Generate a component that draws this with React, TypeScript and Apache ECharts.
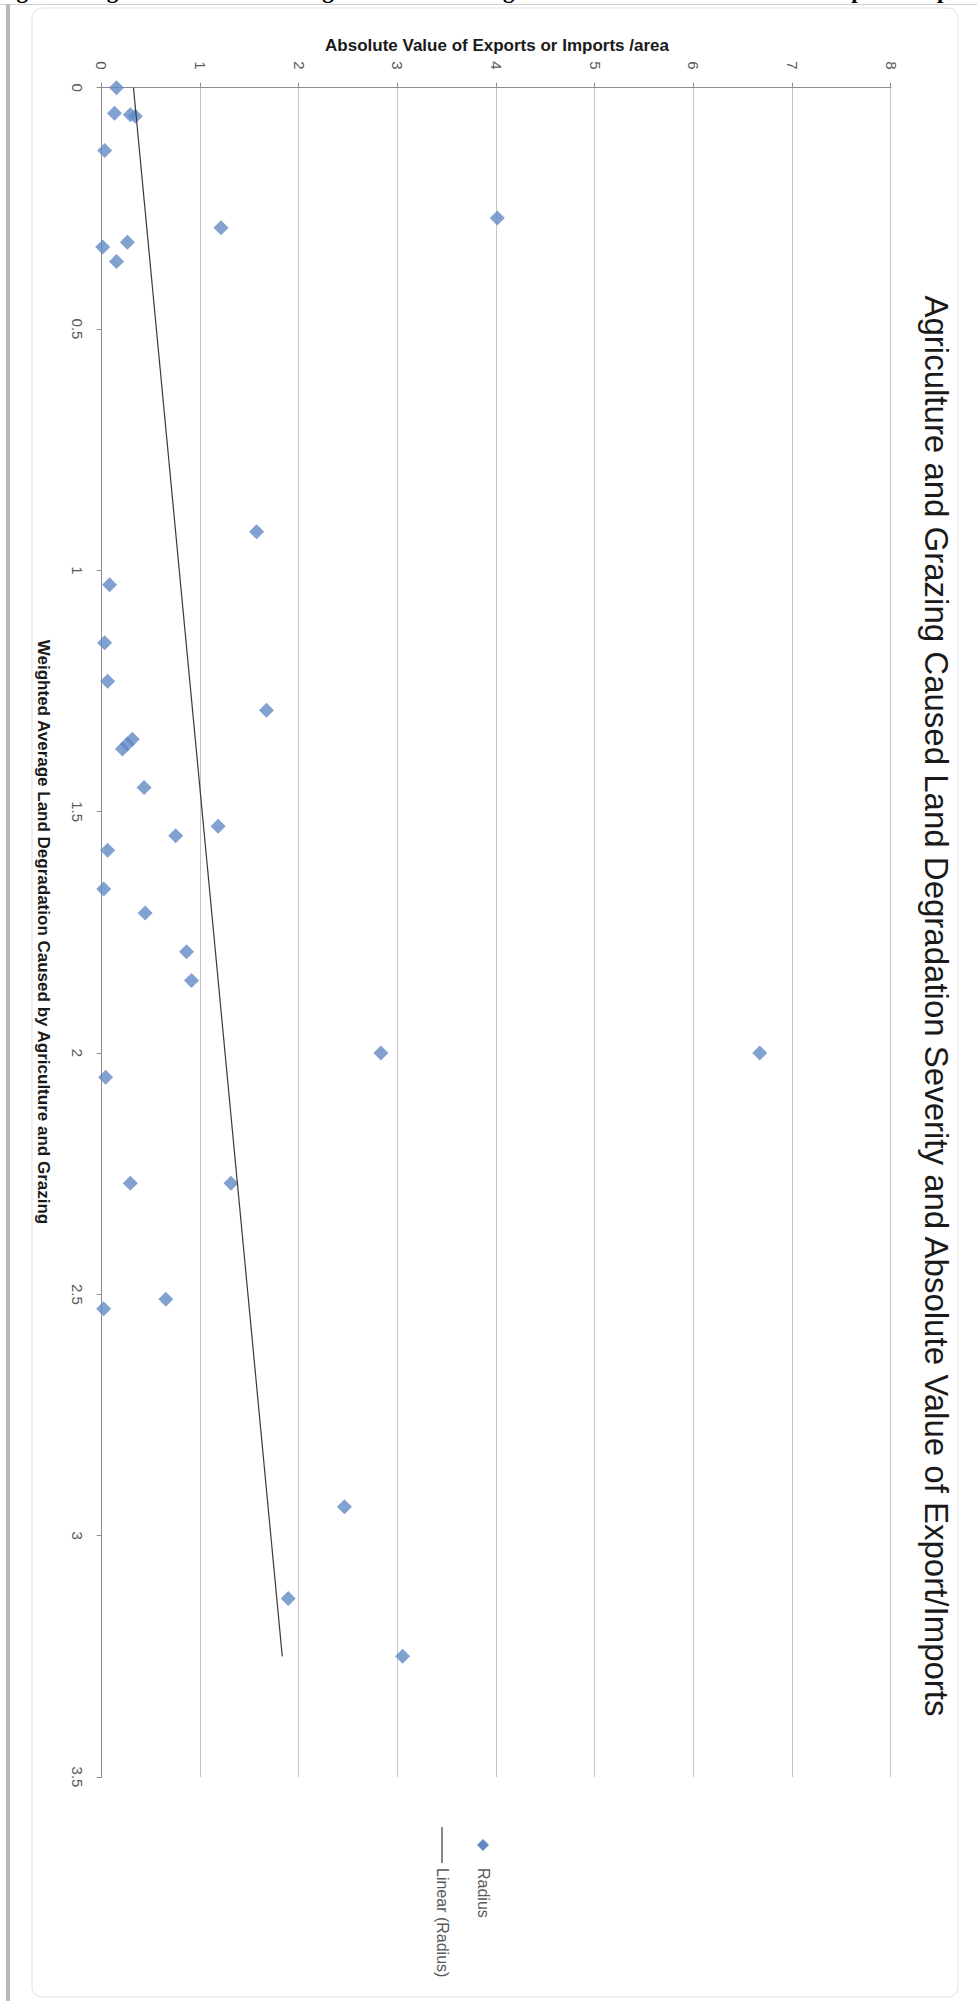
import React, { useEffect, useRef } from "react";
import * as echarts from "echarts";

// X: weighted average land degradation (agriculture & grazing)
const degradation = [
  0.0, 0.053, 0.056, 0.059, 0.13, 0.29, 0.27, 0.32, 0.33, 0.36,
  0.92, 1.03, 1.15, 1.23, 1.29, 1.35, 1.37, 1.36, 1.45, 1.53,
  1.55, 1.58, 1.66, 1.71, 1.79, 1.85, 2.0, 2.0, 2.05, 2.27,
  2.27, 2.51, 2.53, 2.94, 3.13, 3.25,
];
// Y: absolute value of exports or imports / area
const tradeValue = [
  0.15, 0.13, 0.29, 0.34, 0.03, 1.21, 4.01, 0.26, 0.01, 0.15,
  1.57, 0.08, 0.03, 0.06, 1.67, 0.31, 0.21, 0.26, 0.43, 1.18,
  0.75, 0.06, 0.02, 0.44, 0.86, 0.91, 2.83, 6.67, 0.04, 1.31,
  0.29, 0.65, 0.02, 2.46, 1.89, 3.05,
];

const chartTitle =
  "Agriculture and Grazing Caused Land Degradation Severity and Absolute Value of Export/Imports";
const xAxisTitle = "Weighted Average Land Degradation Caused by Agriculture and Grazing";
const yAxisTitle = "Absolute Value of Exports or Imports /area";
const seriesName = "Radius";
const trendName = "Linear (Radius)";
const caption =
  "Figure 3: Agriculture and Grazing Caused Land Degradation and Absolute Value of Exports/Imports";

const xMin = 0;
const xMax = 3.5;
const xStep = 0.5;
const yMin = 0;
const yMax = 8;
const yStep = 1;

const FONT = '"Liberation Sans", Arial, sans-serif';
const MARKER = "#6289c5";
const TREND = "#3a3a3a";

export default function App() {
  const ref = useRef<HTMLDivElement>(null);

  useEffect(() => {
    document.documentElement.style.overflow = "hidden";
    document.body.style.overflow = "hidden";
    const el = ref.current!;
    const chart = echarts.init(el, null, { renderer: "svg", width: 2001, height: 977 });

    const points = degradation.map((x, i) => [x, tradeValue[i]]);
    // least-squares linear trendline (as Excel computes it)
    const n = points.length;
    const mx = degradation.reduce((a, b) => a + b, 0) / n;
    const my = tradeValue.reduce((a, b) => a + b, 0) / n;
    let sxy = 0;
    let sxx = 0;
    for (let i = 0; i < n; i++) {
      sxy += (degradation[i] - mx) * (tradeValue[i] - my);
      sxx += (degradation[i] - mx) * (degradation[i] - mx);
    }
    const slope = sxy / sxx;
    const intercept = my - slope * mx;
    const lo = Math.min(...degradation);
    const hi = Math.max(...degradation);
    const trend = [
      [lo, intercept + slope * lo],
      [hi, intercept + slope * hi],
    ];

    const axisColor = "#8c8c8c";
    const centered = { align: "center", verticalAlign: "middle", textAlign: "center", textVerticalAlign: "middle" };
    const leftMid = { align: "left", verticalAlign: "middle", textAlign: "left", textVerticalAlign: "middle" };

    // legend (Excel style, drawn at the right of the plot before the page rotation)
    const legX = 1827;
    const legY1 = 494;
    const legY2 = 535;

    chart.setOption({
      animation: false,
      backgroundColor: "transparent",
      grid: { left: 87.7, right: 224, top: 86, bottom: 101.7, containLabel: false },
      xAxis: {
        type: "value",
        min: xMin,
        max: xMax,
        interval: xStep,
        axisLine: { show: true, onZero: false, lineStyle: { color: axisColor, width: 1 } },
        axisTick: { show: true, length: 5, lineStyle: { color: axisColor } },
        axisLabel: { margin: 17, fontSize: 15, color: "#595959", fontFamily: FONT },
        splitLine: { show: false },
      },
      yAxis: {
        type: "value",
        min: yMin,
        max: yMax,
        interval: yStep,
        axisLine: { show: true, onZero: false, lineStyle: { color: axisColor, width: 1 } },
        axisTick: { show: true, length: 5, lineStyle: { color: axisColor } },
        axisLabel: { margin: 18, fontSize: 15, color: "#595959", fontFamily: FONT },
        splitLine: { show: true, lineStyle: { color: "#c6c6c6", width: 1 } },
      },
      series: [
        {
          name: seriesName,
          type: "scatter",
          data: points,
          symbol: "diamond",
          symbolSize: 15,
          itemStyle: { color: MARKER },
        },
        {
          name: trendName,
          type: "line",
          data: trend,
          symbol: "none",
          silent: true,
          lineStyle: { color: TREND, width: 1.2 },
          itemStyle: { color: TREND },
          z: 3,
        },
      ],
      graphic: [
        {
          type: "rect",
          shape: { x: 8, y: 19, width: 1989, height: 926, r: 10 },
          style: { fill: "none", stroke: "#e2e2e2", lineWidth: 1 },
          silent: true,
        },
        {
          type: "text",
          x: 1006,
          y: 41,
          style: { text: chartTitle, font: `33px ${FONT}`, fill: "#1a1a1a", ...centered },
        },
        {
          type: "text",
          x: 932,
          y: 934,
          style: { text: xAxisTitle, font: `bold 17px ${FONT}`, fill: "#1a1a1a", ...centered },
        },
        {
          type: "text",
          x: 45,
          y: 480,
          rotation: Math.PI / 2,
          style: { text: yAxisTitle, font: `bold 17px ${FONT}`, fill: "#1a1a1a", ...centered },
        },
        {
          type: "polygon",
          shape: {
            points: [
              [legX + 18, legY1 - 6],
              [legX + 24, legY1],
              [legX + 18, legY1 + 6],
              [legX + 12, legY1],
            ],
          },
          style: { fill: MARKER },
        },
        {
          type: "text",
          x: legX + 41,
          y: legY1,
          style: { text: seriesName, font: `16px ${FONT}`, fill: "#595959", ...leftMid },
        },
        {
          type: "line",
          shape: { x1: legX, y1: legY2, x2: legX + 36, y2: legY2 },
          style: { stroke: TREND, lineWidth: 1.2 },
        },
        {
          type: "text",
          x: legX + 41,
          y: legY2,
          style: { text: trendName, font: `16px ${FONT}`, fill: "#595959", ...leftMid },
        },
      ],
    });

    return () => chart.dispose();
  }, []);

  return (
    <>
      <div
        ref={ref}
        style={{
          position: "absolute",
          left: 0,
          top: 0,
          width: 2001,
          height: 977,
          transformOrigin: "0 0",
          transform: "translate(977px, 0px) rotate(90deg)",
        }}
      />
      <div
        style={{
          position: "absolute",
          left: -4,
          top: -22,
          whiteSpace: "nowrap",
          font: 'bold 23px "Liberation Serif", serif',
          color: "#000",
        }}
      >
        {caption}
      </div>
      <div style={{ position: "absolute", left: 0, top: 4, width: 977, height: 1, background: "#cfcfcf" }} />
      <div style={{ position: "absolute", left: 6, top: 4, width: 4, height: 1997, background: "#b8b8b8" }} />
    </>
  );
}
